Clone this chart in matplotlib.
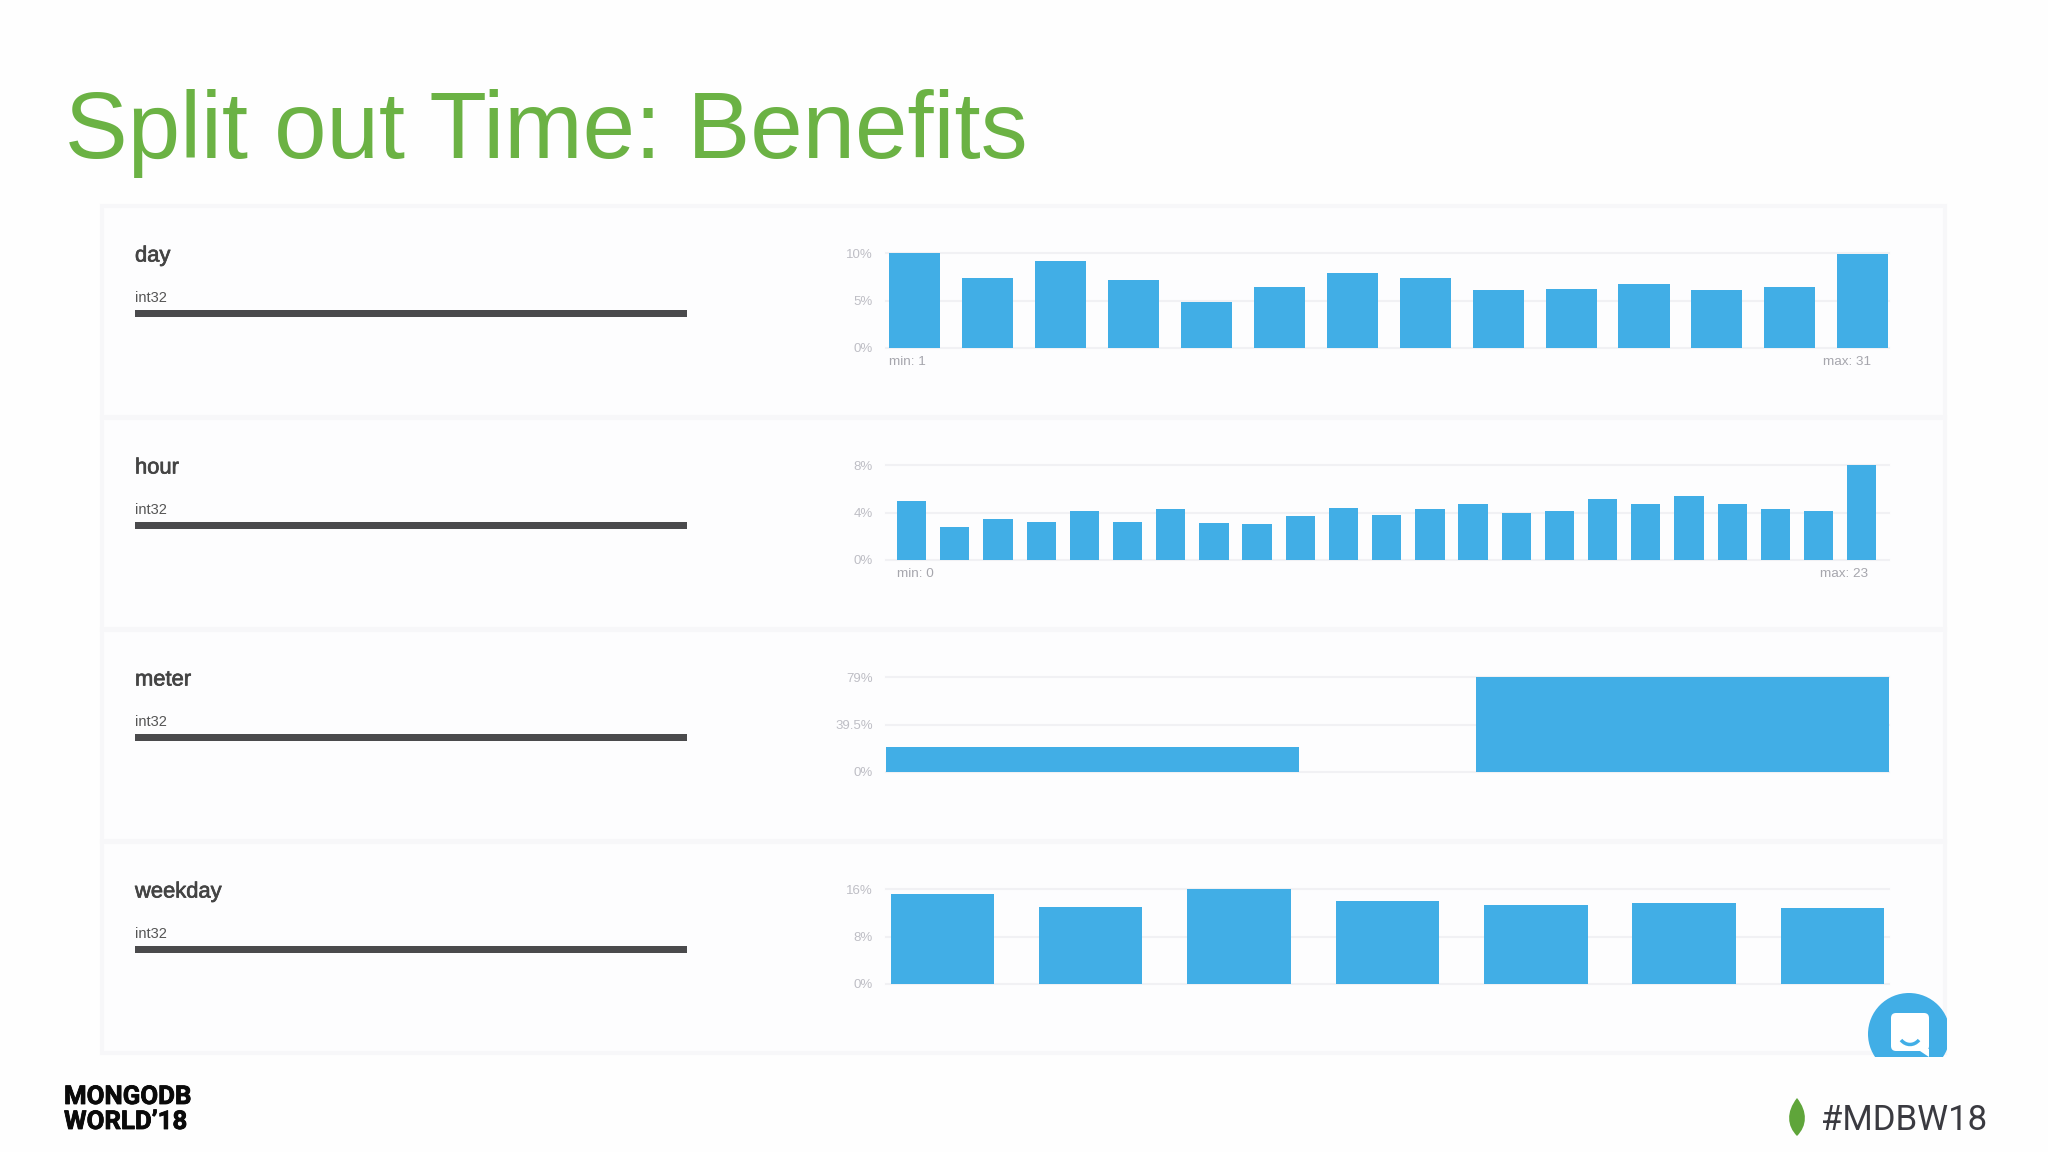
import matplotlib
matplotlib.use('Agg')
import matplotlib.pyplot as plt
import matplotlib.patheffects as pe
from matplotlib.patches import Circle, FancyBboxPatch, PathPatch, Polygon, Rectangle
from matplotlib.path import Path

# Values
day_values = [10, 7.35, 9.22, 7.2, 4.8, 6.43, 7.92, 7.42, 6.11, 6.22, 6.71, 6.11, 6.47, 9.93]
hour_values = [4.97, 2.74, 3.47, 3.19, 4.10, 3.19, 4.27, 3.14, 3.02, 3.70, 4.38, 3.81,
               4.27, 4.69, 3.98, 4.10, 5.11, 4.69, 5.37, 4.69, 4.27, 4.15, 8]
meter_values = [20.7, 79]
weekday_values = [15.2, 13.06, 16, 13.96, 13.4, 13.63, 12.89]

field_names = ['day', 'hour', 'meter', 'weekday']
day_ticks = [0, 5, 10]
day_tick_labels = ['0%', '5%', '10%']
hour_ticks = [0, 4, 8]
hour_tick_labels = ['0%', '4%', '8%']
meter_ticks = [0, 39.5, 79]
meter_tick_labels = ['0%', '39.5%', '79%']
weekday_ticks = [0, 8, 16]
weekday_tick_labels = ['0%', '8%', '16%']

BLUE = '#41AEE6'
GREEN = '#6BB244'
GRID = '#F1F1F4'
GREY = '#BEBEC5'
MINMAX = '#A6A6AD'
W, H = 2048, 1152

plt.rcParams['font.family'] = ['Liberation Sans', 'DejaVu Sans']
fig = plt.figure(figsize=(W / 100, H / 100), dpi=100, facecolor='#FEFEFE')

# Background axes in pixel coordinates for the slide furniture
bg = fig.add_axes([0, 0, 1, 1], zorder=0)
bg.set_xlim(0, W)
bg.set_ylim(H, 0)
bg.axis('off')

bg.text(65, 158, 'Split out Time: Benefits', color=GREEN, fontsize=67.8, va='baseline')

row_h = 212
for i, name in enumerate(field_names):
    top = 206 + i * row_h
    bg.add_patch(Rectangle((102, top), 1843, row_h - 1, facecolor='#FDFDFE',
                           edgecolor='#F7F7F9', linewidth=3))
    bg.text(135, 256 + i * row_h, name, color='#444444', fontsize=15.8, va='center',
            path_effects=[pe.withStroke(linewidth=0.5, foreground='#444444')])
    bg.text(135, 298 + i * row_h, 'int32', color='#555555', fontsize=10.5, va='center')
    bg.add_patch(Rectangle((135, 310 + i * row_h), 552, 6.5, facecolor='#4A4A4C', edgecolor='none'))

# min/max labels under the first two charts
bg.text(889, 362, 'min: 1', color=MINMAX, fontsize=9.7, va='center')
bg.text(1871, 362, 'max: 31', color=MINMAX, fontsize=9.7, va='center', ha='right')
bg.text(897, 574, 'min: 0', color=MINMAX, fontsize=9.7, va='center')
bg.text(1868, 574, 'max: 23', color=MINMAX, fontsize=9.7, va='center', ha='right')

# Footer
footer_font = ['Roboto', 'DejaVu Sans']
for y, line in [(1097, 'MONGODB'), (1122, 'WORLD\u201918')]:
    bg.text(64, y, line, family=footer_font, weight='bold', fontsize=18.6, color='#0A0A0A', va='center',
            path_effects=[pe.withStroke(linewidth=0.6, foreground='#0A0A0A')])
bg.text(1821, 1121, '#MDBW18', family=['Roboto', 'DejaVu Sans'], fontsize=25, color='#3A3A40', va='center')

# Leaf
leaf = Path([(1797, 1098), (1786, 1112), (1787, 1126), (1797, 1136),
             (1807, 1126), (1808, 1112), (1797, 1098)],
            [Path.MOVETO, Path.CURVE4, Path.CURVE4, Path.CURVE4, Path.CURVE4, Path.CURVE4, Path.CURVE4])
bg.add_patch(PathPatch(leaf, facecolor='#5FA53A', edgecolor='none'))

# Chat bubble, cut off by the embedded screenshot's edge
clip = Rectangle((1860, 985), 87, 72, transform=bg.transData)
bubble = Circle((1909, 1034), 41, facecolor=BLUE, edgecolor='none', zorder=5)
bg.add_patch(bubble)
bubble.set_clip_path(clip)
note = FancyBboxPatch((1891, 1013), 38, 38, boxstyle='round,pad=0,rounding_size=5',
                      facecolor='white', edgecolor='none', zorder=6)
bg.add_patch(note)
tail = Polygon([(1917, 1049), (1929, 1049), (1929, 1057)], facecolor='white', edgecolor='none', zorder=6)
bg.add_patch(tail)
tail.set_clip_path(clip)
smile = Path([(1901, 1040), (1906, 1046), (1914, 1046), (1919, 1040)],
             [Path.MOVETO, Path.CURVE4, Path.CURVE4, Path.CURVE4])
bg.add_patch(PathPatch(smile, facecolor='none', edgecolor=BLUE, linewidth=2.5, zorder=7))

# The four histograms
charts = [
    (day_values, day_ticks, day_tick_labels, 253.3, (-0.395, 13.36), 0.7),
    (hour_values, hour_ticks, hour_tick_labels, 465.3, (-0.593, 22.63), 0.678),
    (meter_values, meter_ticks, meter_tick_labels, 677.3, (-0.35, 1.35), 0.7),
    (weekday_values, weekday_ticks, weekday_tick_labels, 889.3, (-0.379, 6.38), 0.697),
]
for values, ticks, labels, top_px, xlim, bar_w in charts:
    ax = fig.add_axes([886 / W, 1 - (top_px + 94.4) / H, 1003 / W, 94.4 / H], zorder=2)
    ax.patch.set_alpha(0)
    ax.bar(range(len(values)), values, width=bar_w, color=BLUE, zorder=3)
    ax.set_xlim(*xlim)
    ax.set_ylim(0, ticks[-1])
    ax.set_xticks([])
    ax.set_yticks(ticks)
    ax.set_yticklabels(labels, color=GREY, fontsize=9.5)
    ax.tick_params(axis='y', length=0, pad=9.5)
    ax.grid(axis='y', color=GRID, linewidth=1.5, zorder=1, clip_on=False)
    for spine in ax.spines.values():
        spine.set_visible(False)

fig.savefig('out.png', dpi=100, facecolor=fig.get_facecolor())
